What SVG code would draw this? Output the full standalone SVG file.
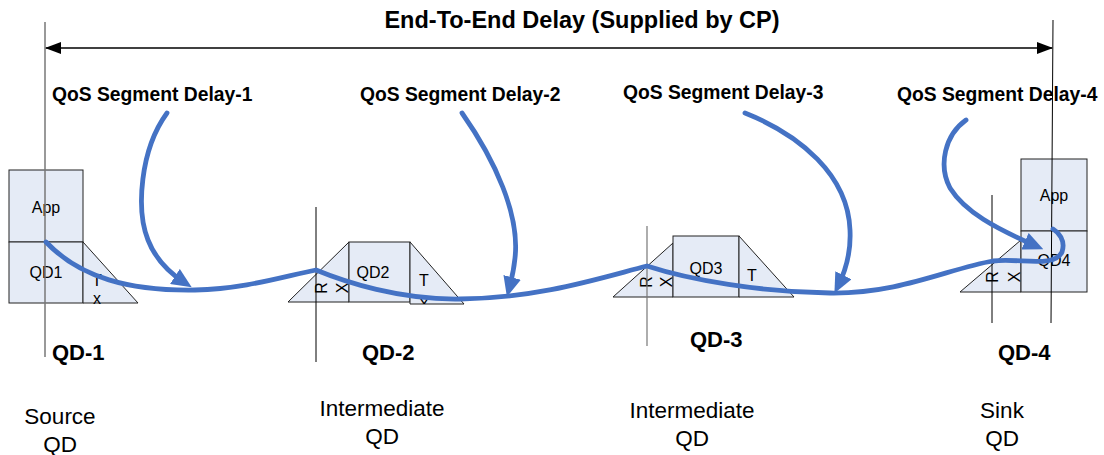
<svg xmlns="http://www.w3.org/2000/svg" width="1104" height="455" viewBox="0 0 1104 455">
<style>
text{font-family:"Liberation Sans",Arial,sans-serif;fill:#000}
.title{font-size:23.5px;font-weight:bold}
.seg{font-size:19.3px;font-weight:bold}
.qd{font-size:22px;font-weight:bold}
.role{font-size:22.5px}
.in{font-size:16px}
.box{fill:#E5EBF6;stroke:#222;stroke-width:1}
.vl{stroke:#000;stroke-width:1}
.vg{stroke:#777;stroke-width:1.5}
.blue{fill:none;stroke:#4472C4;stroke-width:4.8;stroke-linecap:round}
</style>
<defs>
<marker id="ab" viewBox="0 0 20 18" markerWidth="20" markerHeight="18" markerUnits="userSpaceOnUse" refX="12" refY="9" orient="auto"><path d="M0,0 L20,9 L0,18 z" fill="#4472C4"/></marker>
<marker id="ak" viewBox="0 0 16 12" markerWidth="16" markerHeight="12" markerUnits="userSpaceOnUse" refX="15" refY="6" orient="auto-start-reverse"><path d="M0,0 L16,6 L0,12 z" fill="#000"/></marker>
<clipPath id="c2"><rect x="280" y="230" width="200" height="74"/></clipPath>
<clipPath id="c3"><rect x="600" y="220" width="200" height="77"/></clipPath>
</defs>
<rect width="1104" height="455" fill="#fff"/>

<text class="title" x="582" y="28" text-anchor="middle">End-To-End Delay (Supplied by CP)</text>
<g id="labels">
<text class="seg" x="52" y="101">QoS Segment Delay-1</text>
<text class="seg" x="360" y="101">QoS Segment Delay-2</text>
<text class="seg" x="623" y="99">QoS Segment Delay-3</text>
<text class="seg" x="897" y="101">QoS Segment Delay-4</text>
</g>

<g id="qd1">
<rect class="box" x="9" y="170" width="74" height="72"/>
<rect class="box" x="9" y="242" width="74" height="61"/>
<path class="box" d="M83,242 L138,303 L83,303 z"/>
<text class="in" x="46" y="213" text-anchor="middle">App</text>
<text class="in" x="46" y="278" text-anchor="middle">QD1</text>
<text class="in" x="97" y="286" text-anchor="middle">T</text>
<text class="in" x="97" y="304" text-anchor="middle">x</text>
<line class="vg" x1="45" y1="22" x2="45" y2="357"/>
<text class="qd" x="52" y="360">QD-1</text>
<text class="role" x="60" y="424" text-anchor="middle">Source</text>
<text class="role" x="60" y="452" text-anchor="middle">QD</text>
</g>

<g id="qd2">
<path class="box" d="M288,302 L349,242 L349,302 z"/>
<rect class="box" x="349" y="242" width="61" height="60"/>
<path class="box" d="M410,242 L464,304 L410,304 z"/>
<text class="in" x="373" y="278" text-anchor="middle">QD2</text>
<text class="in" x="424" y="286" text-anchor="middle">T</text>
<text class="in" x="424" y="310" text-anchor="middle" clip-path="url(#c2)">X</text>
<text class="in" transform="translate(327,288) rotate(-90)" text-anchor="middle">R</text>
<text class="in" transform="translate(348,288) rotate(-90)" text-anchor="middle">X</text>
<line class="vl" x1="316" y1="207" x2="316" y2="362"/>
<text class="qd" x="362" y="360">QD-2</text>
<text class="role" x="382" y="416" text-anchor="middle">Intermediate</text>
<text class="role" x="382" y="444" text-anchor="middle">QD</text>
</g>

<g id="qd3">
<path class="box" d="M613,297 L673,243 L673,297 z"/>
<rect class="box" x="673" y="236" width="66" height="61"/>
<path class="box" d="M739,236 L794,297 L739,297 z"/>
<text class="in" x="706" y="274" text-anchor="middle">QD3</text>
<text class="in" x="752" y="281" text-anchor="middle">T</text>
<text class="in" x="752" y="309" text-anchor="middle" clip-path="url(#c3)">X</text>
<text class="in" transform="translate(652,282) rotate(-90)" text-anchor="middle">R</text>
<text class="in" transform="translate(672,282) rotate(-90)" text-anchor="middle">X</text>
<line class="vg" x1="647" y1="226" x2="647" y2="346" style="stroke-width:1.2"/>
<text class="qd" x="690" y="347">QD-3</text>
<text class="role" x="692" y="418" text-anchor="middle">Intermediate</text>
<text class="role" x="692" y="446" text-anchor="middle">QD</text>
</g>

<g id="qd4">
<path class="box" d="M960,292 L1021,240 L1021,292 z"/>
<rect class="box" x="1021" y="159" width="66" height="72"/>
<rect class="box" x="1021" y="231" width="66" height="61"/>
<text class="in" x="1054" y="201" text-anchor="middle">App</text>
<text class="in" x="1054" y="266" text-anchor="middle">QD4</text>
<text class="in" transform="translate(998,277) rotate(-90)" text-anchor="middle">R</text>
<text class="in" transform="translate(1020,277) rotate(-90)" text-anchor="middle">X</text>
<line class="vl" x1="992" y1="195" x2="992" y2="323"/>
<line class="vl" x1="1053" y1="20" x2="1051" y2="323"/>
<text class="qd" x="998" y="360">QD-4</text>
<text class="role" x="1002" y="418" text-anchor="middle">Sink</text>
<text class="role" x="1002" y="446" text-anchor="middle">QD</text>
</g>

<g id="connectors">
<line x1="46" y1="48" x2="1052" y2="48" stroke="#000" stroke-width="1.5" marker-start="url(#ak)" marker-end="url(#ak)"/>
<path class="blue" d="M46,242 C80,278 130,291 195,290 C245,289 285,276 316,270 C345,282 400,300 460,299 C540,298 600,278 647,266 C690,280 760,292 830,293 C900,294 950,268 993,261 C1020,258 1055,268 1062,252 C1066,240 1058,232 1053,229"/>
<path class="blue" d="M167,113 C140,150 136,210 148,240 C155,258 168,272 185,283" marker-end="url(#ab)"/>
<path class="blue" d="M462,113 C495,160 520,215 515,258 C514,268 512,278 509,289" marker-end="url(#ab)"/>
<path class="blue" d="M745,113 C800,135 848,175 850,230 C851,250 847,268 838,286" marker-end="url(#ab)"/>
<path class="blue" d="M966,120 C945,135 938,165 950,188 C965,212 995,228 1036,246" marker-end="url(#ab)"/>
</g>
</svg>
